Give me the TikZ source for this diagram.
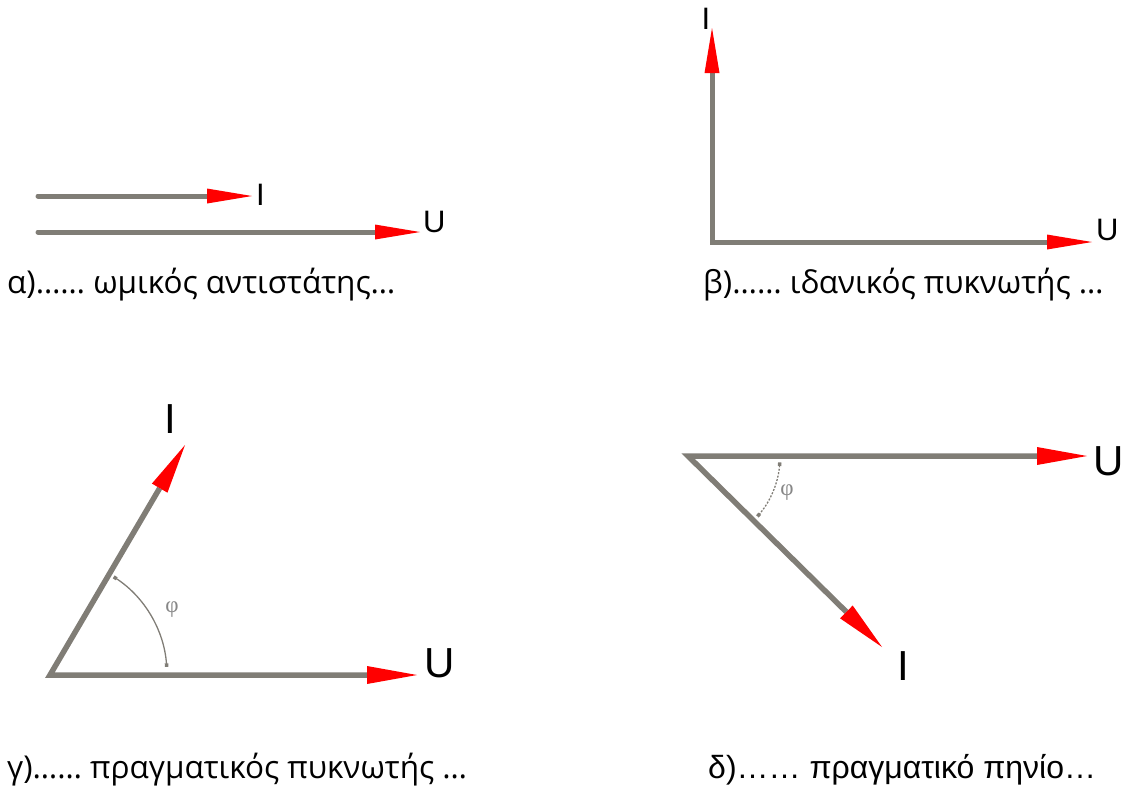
\documentclass[tikz,border=0pt]{standalone}
\usepackage{fontspec}
\setmainfont{Liberation Sans}
\newfontfamily\capfont{Open Sans}
\newfontfamily\phifont{Liberation Serif}
\usetikzlibrary{arrows.meta}

\definecolor{vecgray}{RGB}{128,125,118}
\definecolor{phigray}{RGB}{135,135,135}

\tikzset{
  vec/.style={line width=5pt, vecgray, line cap=round,
    -{Triangle[length=45pt, width=15pt, color=red, line width=0pt]}},
  pairvec/.style={line width=5pt, vecgray, line join=miter,
    {Triangle[length=45pt, width=15pt, color=red, line width=0pt]}-{Triangle[length=45pt, width=15pt, color=red, line width=0pt]}},
  bigpair/.style={line width=5.5pt, vecgray, line join=miter,
    {Triangle[length=50pt, width=18pt, color=red, line width=0pt]}-{Triangle[length=50pt, width=18pt, color=red, line width=0pt]}},
  anglearc/.style={line width=1.3pt, vecgray, {Square[length=3.5pt, width=3.5pt]}-{Square[length=3.5pt, width=3.5pt]}},
  lab/.style={font=\fontsize{31}{31}\selectfont, inner sep=0pt},
  biglab/.style={font=\fontsize{42}{42}\selectfont, inner sep=0pt},
  caption/.style={font=\capfont\fontsize{31.5}{31.5}\selectfont, anchor=base west, inner sep=0pt},
  philab/.style={font=\phifont\fontsize{23}{23}\selectfont, phigray, inner sep=0pt}
}

\begin{document}
\begin{tikzpicture}[x=1pt, y=-1pt]
  \useasboundingbox (0,0) rectangle (1126,809);

  % --- α) ---
  \coordinate (aIstart) at (38,196);
  \coordinate (aIend) at (252,196);
  \coordinate (aUstart) at (38,232);
  \coordinate (aUend) at (420,232);
  \draw[vec] (aIstart) -- (aIend);
  \draw[vec] (aUstart) -- (aUend);
  \node[lab, anchor=west] (aIlab) at (256,195) {I};
  \node[lab, anchor=base west] (aUlab) at (423,232) {U};
  \node[caption] (acap) at (7,293) {α)…… ωμικός αντιστάτης…};

  % --- β) ---
  \coordinate (bO) at (712,242);
  \coordinate (bIend) at (712,28);
  \coordinate (bUend) at (1092,242);
  \draw[pairvec] (bIend) -- (bO) -- (bUend);
  \node[lab] (bIlab) at (706,19) {I};
  \node[lab, anchor=base west] (bUlab) at (1096,240) {U};
  \node[caption] (bcap) at (703,293) {β)…… ιδανικός πυκνωτής …};

  % --- γ) ---
  \coordinate (gO) at (50,675);
  \coordinate (gIend) at (185,445);
  \coordinate (gUend) at (417,675);
  \draw[bigpair] (gIend) -- (gO) -- (gUend);
  \draw[anglearc] (gO) ++(-4:117) arc[start angle=-4, end angle=-57, radius=117];
  \node[philab] (gphi) at (172,610) {φ};
  \node[biglab] (gIlab) at (170,419) {I};
  \node[biglab, anchor=base west] (gUlab) at (424,677) {U};
  \node[caption] (gcap) at (7,778) {γ)…… πραγματικός πυκνωτής …};

  % --- δ) ---
  \coordinate (dO) at (688,456);
  \coordinate (dUend) at (1087,456);
  \coordinate (dIend) at (882,647);
  \draw[bigpair] (dIend) -- (dO) -- (dUend);
  \draw[anglearc, dash pattern=on 2pt off 1.5pt] (dO) ++(4:92) arc[start angle=4, end angle=41, radius=92];
  \node[philab] (dphi) at (787,493) {φ};
  \node[biglab] (dIlab) at (903,666) {I};
  \node[biglab, anchor=base west] (dUlab) at (1093,475) {U};
  \node[caption, font=\fontsize{32}{32}\selectfont] (dcap) at (708,778) {δ)…… πραγματικό πηνίο…};

\end{tikzpicture}
\end{document}
